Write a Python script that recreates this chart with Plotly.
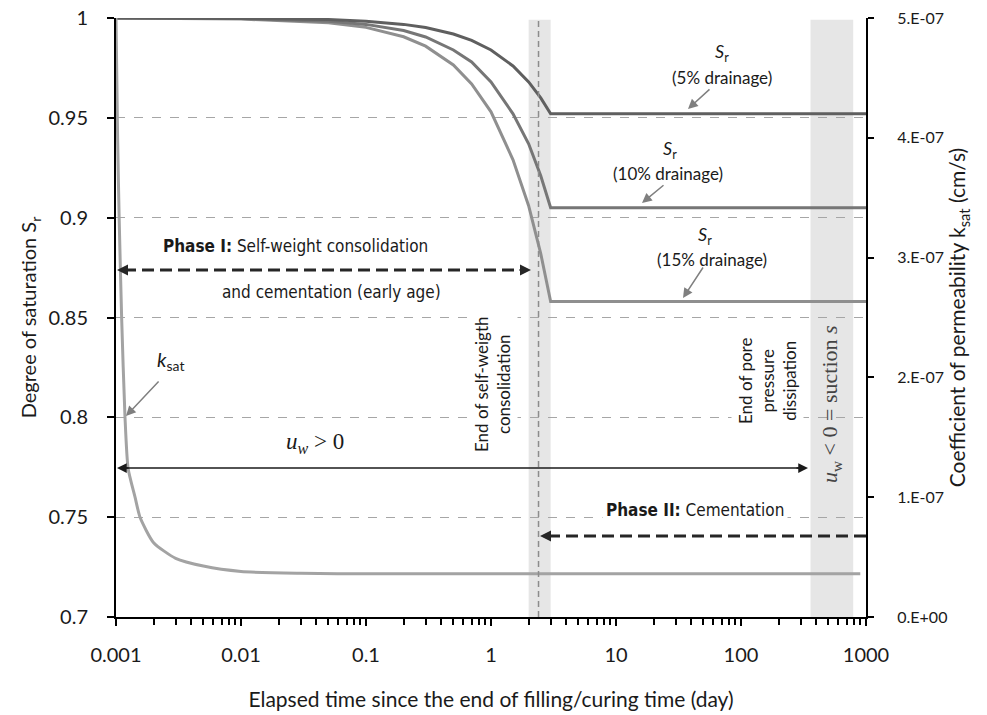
import math
import plotly.graph_objects as go

# ---------------- data ----------------
t_sr = [0.001, 0.01, 0.05, 0.1, 0.2, 0.3, 0.5, 0.7, 1.0, 1.5, 2.0, 2.5, 3.0, 1000]
sr_5 = [1.0, 0.9998, 0.9992, 0.9984, 0.9968, 0.9952, 0.992, 0.9888, 0.984, 0.976, 0.968, 0.960, 0.952, 0.952]
sr_10 = [1.0, 0.9997, 0.9984, 0.9968, 0.9937, 0.9905, 0.984, 0.978, 0.968, 0.952, 0.937, 0.921, 0.905, 0.905]
sr_15 = [1.0, 0.9995, 0.9976, 0.9953, 0.9906, 0.9859, 0.9765, 0.967, 0.953, 0.929, 0.906, 0.882, 0.858, 0.858]

t_k = [0.001, 0.00103, 0.00106, 0.00111, 0.00118, 0.00125, 0.00142, 0.00156, 0.002, 0.003,
       0.005, 0.01, 0.03, 0.1, 900]
k_sat = [5.0e-7, 4.0e-7, 3.33e-7, 2.49e-7, 1.67e-7, 1.24e-7, 1.0e-7, 0.83e-7, 0.62e-7, 0.49e-7,
         0.425e-7, 0.38e-7, 0.365e-7, 0.36e-7, 0.36e-7]

x_tickvals = [0.001, 0.01, 0.1, 1, 10, 100, 1000]
x_ticktext = ["0.001", "0.01", "0.1", "1", "10", "100", "1000"]
y_tickvals = [0.7, 0.75, 0.8, 0.85, 0.9, 0.95, 1.0]
y_ticktext = ["0.7", "0.75", "0.8", "0.85", "0.9", "0.95", "1"]
y2_tickvals = [0, 1e-7, 2e-7, 3e-7, 4e-7, 5e-7]
y2_ticktext = ["0.E+00", "1.E-07", "2.E-07", "3.E-07", "4.E-07", "5.E-07"]

band_1 = (2.0, 3.0)
band_2 = (360, 790)
end_consolidation = 2.4

# ---------------- figure ----------------
W, H = 987, 715
L, R, T, B = 116, 121, 18, 98
FONT = "Lato, 'Open Sans', sans-serif"
COND = "'Liberation Sans Narrow', 'DejaVu Sans Condensed', 'Roboto Condensed', Roboto, sans-serif"
SERIF = "'Liberation Serif', 'DejaVu Serif', serif"
PAD = "\u2002\u2002\u00a0"

def px(x):
    return (x - L) / (W - L - R)

def py(y):
    return (H - B - y) / (H - B - T)

fig = go.Figure()

fig.add_trace(go.Scatter(x=t_k, y=k_sat, yaxis="y2", mode="lines",
                         line=dict(color="#a3a3a3", width=3, shape="spline", smoothing=0.6),
                         name="k_sat", showlegend=False))
fig.add_trace(go.Scatter(x=t_sr, y=sr_15, mode="lines",
                         line=dict(color="#8f8f8f", width=3), name="15%", showlegend=False))
fig.add_trace(go.Scatter(x=t_sr, y=sr_10, mode="lines",
                         line=dict(color="#767676", width=3), name="10%", showlegend=False))
fig.add_trace(go.Scatter(x=t_sr, y=sr_5, mode="lines",
                         line=dict(color="#5f5f5f", width=3), name="5%", showlegend=False))

shapes = []
for b0, b1 in (band_1, band_2):
    shapes.append(dict(type="rect", xref="x", yref="paper", x0=b0, x1=b1, y0=0, y1=0.997,
                       fillcolor="#e6e6e6", line=dict(width=0), layer="below"))
shapes.append(dict(type="line", xref="x", yref="paper", x0=end_consolidation, x1=end_consolidation,
                   y0=0, y1=1, line=dict(color="#8c8c8c", width=1.5, dash="6px,4px"), layer="above"))
# Phase I dashed double arrow
shapes.append(dict(type="line", xref="paper", yref="paper", x0=px(124), x1=px(524), y0=py(270), y1=py(270),
                   line=dict(color="#262626", width=3, dash="12px,6px")))
# Phase II dashed arrow
shapes.append(dict(type="line", xref="paper", yref="paper", x0=px(548), x1=px(866), y0=py(536), y1=py(536),
                   line=dict(color="#262626", width=3, dash="12px,6px")))
# u_w > 0 solid double arrow
shapes.append(dict(type="line", xref="paper", yref="paper", x0=px(122), x1=px(802), y0=py(468), y1=py(468),
                   line=dict(color="#1a1a1a", width=1.5)))
fig.update_layout(shapes=shapes)

ann = []

def text(x, y, s, size=16, font=FONT, angle=0, bg=None, xanchor="center", color="#1a1a1a"):
    d = dict(xref="paper", yref="paper", x=px(x), y=py(y), text=s, showarrow=False,
             font=dict(family=font, size=size, color=color), textangle=angle,
             xanchor=xanchor, yanchor="middle")
    if bg:
        d.update(bgcolor=bg, borderpad=3)
    ann.append(d)

def arrow(hx, hy, tx, ty, color="#7f7f7f", width=1.5, head=2, size=1.3):
    ann.append(dict(xref="paper", yref="paper", x=px(hx), y=py(hy), ax=tx - hx, ay=ty - hy,
                    axref="pixel", ayref="pixel", text="", showarrow=True, arrowhead=head,
                    arrowsize=size, arrowwidth=width, arrowcolor=color, standoff=0))

# S_r labels
text(722, 53, "<i>S</i><sub>r</sub>", 18)
text(722, 77, "(5% drainage)", 17)
arrow(688, 109, 711, 88)
text(670, 149, "<i>S</i><sub>r</sub>", 18)
text(668, 174, "(10% drainage)", 17)
arrow(642, 203, 665, 184)
text(705, 235, "<i>S</i><sub>r</sub>", 18)
text(712, 259, "(15% drainage)", 17)
arrow(683, 298, 704, 266)
# k_sat label
text(170, 361, "<i>k</i><sub>sat</sub>", 20)
arrow(126, 416, 160, 380)

# Phase I
text(161, 246, "<b>Phase I:</b> Self-weight consolidation", 17, COND, xanchor="left")
text(331, 292, "and cementation (early age)", 17, COND)
arrow(117, 270, 130, 270, color="#262626", width=2, size=1.1)
arrow(531, 270, 518, 270, color="#262626", width=2, size=1.1)

# Phase II
text(695, 510, "<b>Phase II:</b> Cementation", 17, COND, bg="white")
arrow(540, 536, 553, 536, color="#262626", width=2, size=1.1)

# u_w > 0
text(315, 443, "<i>u</i><sub><i>w</i></sub> &gt; 0", 23, SERIF)
arrow(117, 468, 130, 468, color="#1a1a1a", width=1.5, size=1.3)
arrow(808, 468, 795, 468, color="#1a1a1a", width=1.5, size=1.3)

# vertical texts
text(492, 385, "End of self-weigth<br>consolidation", 17, FONT, angle=-90, bg="white")
text(767, 381, "End of pore<br>pressure<br>dissipation", 17, FONT, angle=-90, bg="white")
text(831, 404, "<i>u</i><sub>w</sub> &lt; 0 = suction <i>s</i>", 22, SERIF, angle=-90, color="#444444")

fig.update_layout(annotations=ann)

fig.update_layout(
    width=W, height=H,
    margin=dict(l=L, r=R, t=T, b=B, pad=0, autoexpand=False),
    paper_bgcolor="white", plot_bgcolor="white",
    font=dict(family=FONT, size=19, color="#1a1a1a"),
    xaxis=dict(type="log", range=[-3, 3], tickvals=x_tickvals, ticktext=x_ticktext,
               automargin=False,
               showline=True, linecolor="black", linewidth=2, ticks="outside", ticklen=7,
               tickwidth=2, tickcolor="black", showgrid=False, zeroline=False,
               minor=dict(ticks="outside", ticklen=6, tickwidth=1.5, tickcolor="black",
                          dtick="D1", showgrid=False),
               tickfont=dict(size=20), ticklabelstandoff=12,
               title=dict(text="Elapsed time since the end of filling/curing time (day)",
                          font=dict(size=21), standoff=27)),
    yaxis=dict(range=[0.7, 1.0], tickvals=y_tickvals, ticktext=y_ticktext, automargin=False,
               showline=True, linecolor="black", linewidth=2, ticks="outside", ticklen=7,
               tickwidth=2, tickcolor="black", showgrid=True, gridcolor="#a6a6a6",
               griddash="dash", gridwidth=1, zeroline=False, tickfont=dict(size=20),
               ticklabelstandoff=15,
               title=dict(text="Degree of saturation S<sub>r</sub>", font=dict(size=20), standoff=6)),
    yaxis2=dict(range=[0, 5e-7], overlaying="y", side="right", tickvals=y2_tickvals,
                ticktext=[PAD + s for s in y2_ticktext], automargin=False,
                showline=True, linecolor="black", linewidth=2,
                ticks="outside", ticklen=6, tickwidth=2, tickcolor="black", showgrid=False,
                zeroline=False, tickfont=dict(size=16),
                title=dict(text="Coefficient of permeability k<sub>sat</sub> (cm/s)",
                           font=dict(size=21), standoff=4)),
)

fig.write_html("out.html")
